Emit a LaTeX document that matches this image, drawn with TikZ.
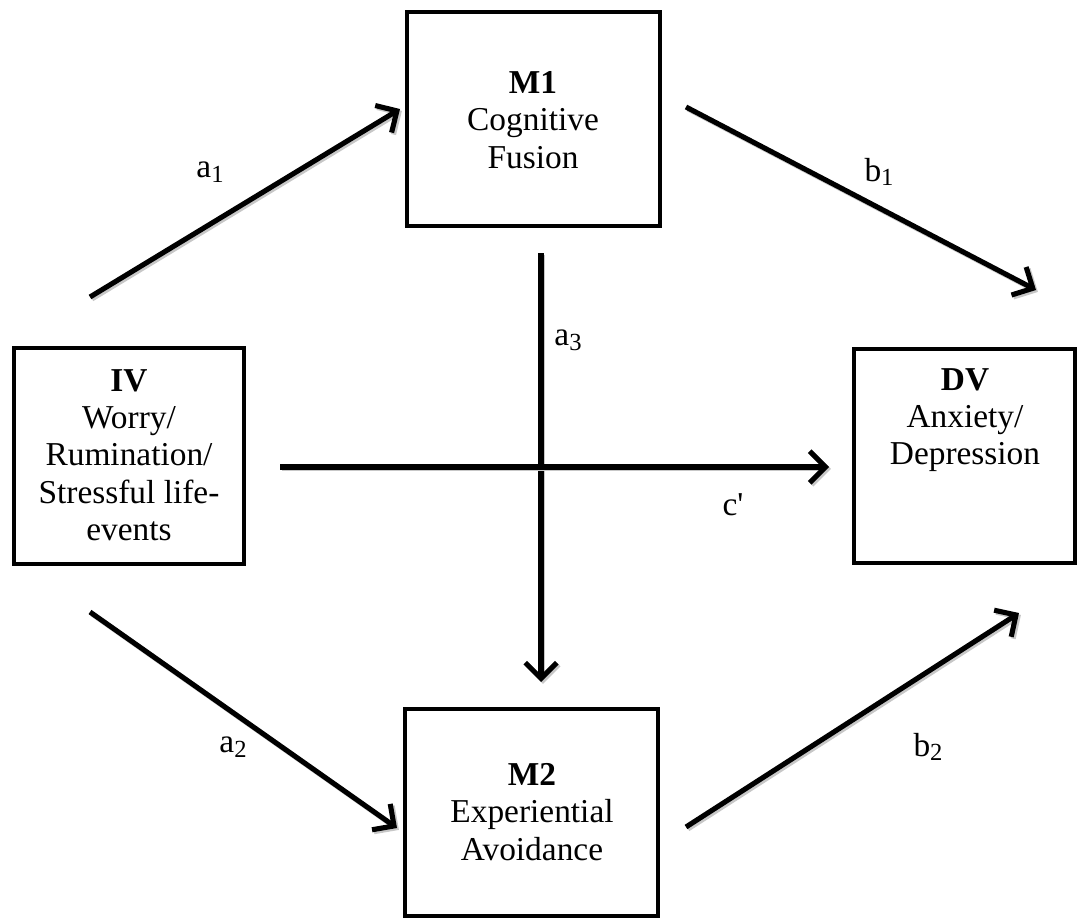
\documentclass[tikz,border=0pt]{standalone}
\usepackage{fontspec}
\setmainfont{Liberation Serif}
\usetikzlibrary{arrows.meta}
\newcommand{\sbs}[1]{\raisebox{-0.3ex}{\fontsize{14}{14}\selectfont #1}}
\begin{document}
\begin{tikzpicture}[x=0.02cm,y=-0.02cm,
 box/.style={draw, line width=2.3pt, inner sep=0pt, outer sep=0pt},
 txt/.style={align=center, font=\fontsize{19}{21.2}\selectfont, inner sep=0pt},
 lbl/.style={font=\fontsize{19}{21}\selectfont, inner sep=0pt},
 tip/.style={-{Straight Barb[length=9pt,width=18pt]}},
 arr/.style={line width=2.9pt, tip,
   preaction={draw=black!22, line width=2.9pt, tip,
   transform canvas={xshift=1.1pt,yshift=-1.1pt}}}
]
\useasboundingbox (0,0) rectangle (1091,922);
% boxes
\node[box, minimum width=5.06cm, minimum height=4.28cm] (m1) at (533.5,119) {};
\node[box, minimum width=4.60cm, minimum height=4.32cm] (iv) at (129,456) {};
\node[box, minimum width=4.42cm, minimum height=4.28cm] (dv) at (964.5,456) {};
\node[box, minimum width=5.06cm, minimum height=4.14cm] (m2) at (531.5,812.5) {};
% texts
\node[txt] (m1t) at (533,120) {\textbf{M1}\\Cognitive\\Fusion};
\node[txt] (ivt) at (129,455) {\textbf{IV}\\Worry/\\Rumination/\\Stressful life-\\events};
\node[txt] (dvt) at (965,420) {\textbf{DV}\\Anxiety/\\Depression};
\node[txt] (m2t) at (532,812) {\textbf{M2}\\Experiential\\Avoidance};
% arrow ends
\coordinate (a1s) at (90,297);
\coordinate (a1e) at (400,109);
\coordinate (b1s) at (686,107);
\coordinate (b1e) at (1036,290);
\coordinate (a3s) at (541,253);
\coordinate (a3e) at (541,682);
\coordinate (cs) at (280,467);
\coordinate (ce) at (829,467);
\coordinate (a2s) at (90,612);
\coordinate (a2e) at (397,828);
\coordinate (b2s) at (686,827);
\coordinate (b2e) at (1019,613);
\draw[arr] (a1s) -- (a1e);
\draw[arr] (b1s) -- (b1e);
\draw[arr] (a3s) -- (a3e);
\draw[arr] (cs) -- (ce);
\draw[arr] (a2s) -- (a2e);
\draw[arr] (b2s) -- (b2e);
% labels
\node[lbl] (la1) at (210,172) {a\sbs{1}};
\node[lbl] (lb1) at (879,172) {b\sbs{1}};
\node[lbl] (la3) at (568,340) {a\sbs{3}};
\node[lbl] (lc) at (733,505) {c\textquotesingle};
\node[lbl] (la2) at (233,747) {a\sbs{2}};
\node[lbl] (lb2) at (928,747) {b\sbs{2}};
\end{tikzpicture}
\end{document}
